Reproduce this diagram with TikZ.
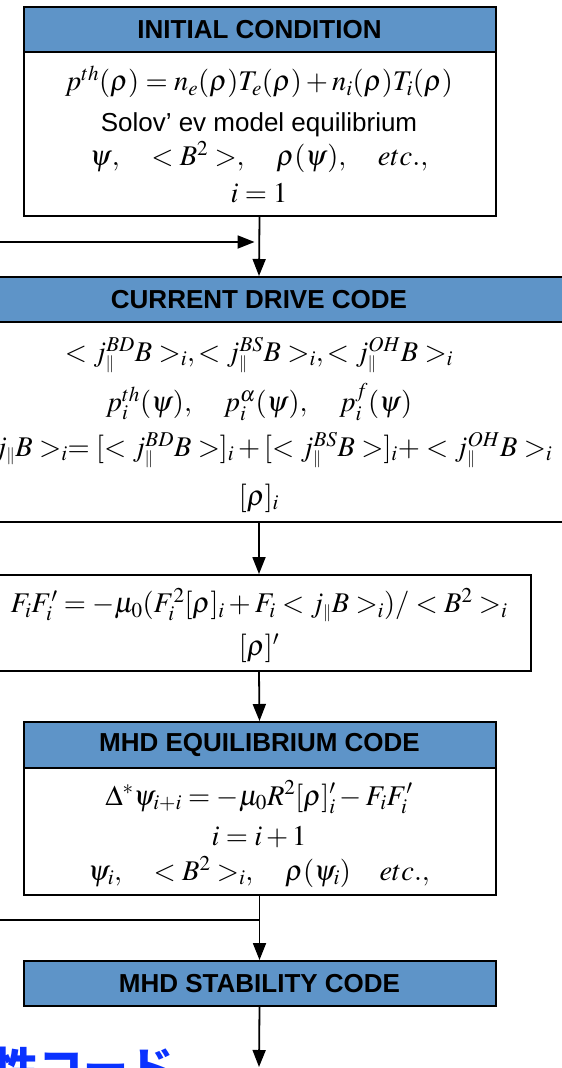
\documentclass[tikz,border=0pt]{standalone}
\usepackage{mathptmx}
\usepackage{fontspec}
\setmainfont{Liberation Serif}
\setsansfont{Liberation Sans}
\newfontfamily\jpfont{Noto Sans CJK JP}
\usetikzlibrary{arrows.meta}
\definecolor{hdrblue}{RGB}{94,148,200}
\definecolor{jpblue}{RGB}{10,50,255}

\begin{document}
\begin{tikzpicture}[x=1pt,y=-1pt,
  hdr/.style={draw,line width=2pt,fill=hdrblue,inner sep=0pt,
    font=\sffamily\bfseries\fontsize{26}{30}\selectfont},
  body/.style={draw,line width=2pt,fill=white,inner sep=0pt},
  eq/.style={inner sep=0pt,font=\fontsize{28.5}{32}\selectfont},
  arr/.style={line width=1.8pt,-{Triangle[length=17pt,width=13pt]}}]
  \useasboundingbox (0,0) rectangle (562,1068);

  % initial condition
  \node[body,minimum width=472pt,minimum height=164pt] (ic) at (259.5,134) {};
  \node[hdr,minimum width=472pt,minimum height=45pt] (ich) at (259.5,29.5) {INITIAL CONDITION};
  \node[eq] (ic1) at (259,82) {$p^{th}(\rho) = n_e(\rho)T_e(\rho) + n_i(\rho)T_i(\rho)$};
  \node[eq,font=\sffamily\fontsize{26}{30}\selectfont] (ic2) at (259,125) {Solov’ ev model equilibrium};
  \node[eq] (ic3) at (259,157) {$\psi,\quad <B^2>,\quad \rho(\psi),\quad etc.,$};
  \node[eq] (ic4) at (259,193) {$i=1$};

  % current drive code
  \node[body,minimum width=640pt,minimum height=200pt] (cd) at (259,422) {};
  \node[hdr,minimum width=640pt,minimum height=45pt] (cdh) at (259,299.5) {CURRENT DRIVE CODE};
  \node[eq] (cd1) at (259,355) {$< j_{\scriptscriptstyle\parallel}^{BD} B >_i, < j_{\scriptscriptstyle\parallel}^{BS} B >_i, < j_{\scriptscriptstyle\parallel}^{OH} B >_i$};
  \node[eq] (cd2) at (259,402) {$p_i^{th}(\psi),\quad p_i^{\alpha}(\psi),\quad p_i^{f}(\psi)$};
  \node[eq] (cd3) at (259,450) {$< j_{\scriptscriptstyle\parallel} B >_i = [< j_{\scriptscriptstyle\parallel}^{BD} B >]_i + [< j_{\scriptscriptstyle\parallel}^{BS} B >]_i + < j_{\scriptscriptstyle\parallel}^{OH} B >_i$};
  \node[eq] (cd4) at (259,498) {$[\rho]_i$};

  % flux function
  \node[body,minimum width=544pt,minimum height=96pt] (ff) at (259,623) {};
  \node[eq] (ff1) at (259,605) {$F_iF_i' = -\mu_0(F_i^2[\rho]_i + F_i < j_{\scriptscriptstyle\parallel} B >_i)/ < B^2 >_i$};
  \node[eq] (ff2) at (259,648) {$[\rho]'$};

  % mhd equilibrium code
  \node[body,minimum width=472pt,minimum height=127pt] (eqb) at (259.5,831.5) {};
  \node[hdr,minimum width=472pt,minimum height=46pt] (eqh) at (259.5,745) {MHD EQUILIBRIUM CODE};
  \node[eq] (eq1) at (259,797) {$\Delta^*\psi_{i+i} = -\mu_0 R^2[\rho]_i' - F_iF_i'$};
  \node[eq] (eq2) at (259,837) {$i = i+1$};
  \node[eq] (eq3) at (259,872) {$\psi_i,\quad <B^2>_i,\quad \rho(\psi_i)\quad etc.,$};

  % mhd stability code
  \node[hdr,minimum width=472pt,minimum height=45pt] (st) at (259.5,983.5) {MHD STABILITY CODE};
  \node[anchor=base west,inner sep=0pt,text=jpblue,
    font=\jpfont\bfseries\fontsize{45}{50}\selectfont] (jp) at (-7,1085) {性コード};

  % connectors
  \coordinate (loopin) at (0,242);
  \coordinate (loopout) at (0,920);
  \coordinate (exit) at (259,1067);
  \draw[arr] (ic.south) -- (cdh.north);
  \draw[arr,shorten >=5pt] (loopin) -- (loopin -| ic.south);
  \draw[arr] (cd.south) -- (ff.north);
  \draw[arr] (ff.south) -- (eqh.north);
  \draw[line width=1.8pt] (loopout) -- (loopout -| eqb.south);
  \draw[arr] (eqb.south) -- (st.north);
  \draw[arr] (st.south) -- (exit);
\end{tikzpicture}
\end{document}
